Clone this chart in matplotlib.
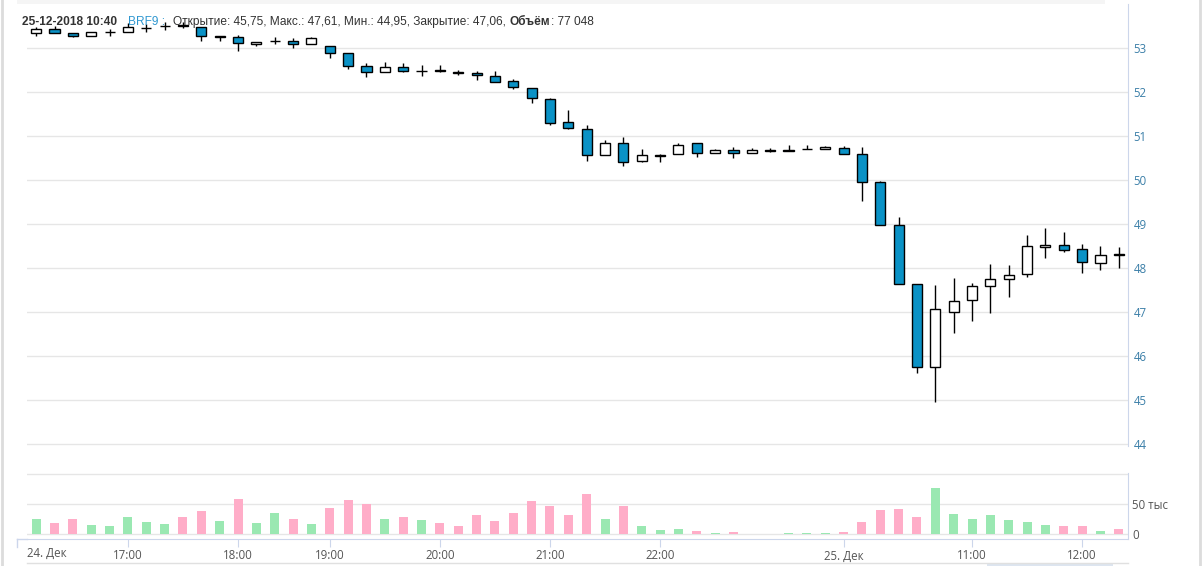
import matplotlib
matplotlib.use('Agg')
import matplotlib.pyplot as plt
from matplotlib.patches import Rectangle
from matplotlib.lines import Line2D

# 10-minute candles, BRF9, 24-25 Dec 2018
opens = [53.33, 53.43, 53.34, 53.27, 53.36, 53.36, 53.45, 53.51, 53.52, 53.48,
         53.28, 53.24, 53.09, 53.17, 53.17, 53.08, 53.04, 52.88, 52.58, 52.45,
         52.56, 52.48, 52.49, 52.445, 52.43, 52.36, 52.24, 52.10, 51.83, 51.32,
         51.17, 50.56, 50.83, 50.43, 50.56, 50.58, 50.83, 50.61, 50.68, 50.61,
         50.675, 50.675, 50.705, 50.70, 50.73, 50.58, 49.95, 48.97, 47.63, 45.75,
         47.00, 47.27, 47.59, 47.75, 47.86, 48.47, 48.52, 48.43, 48.11, 48.31]
highs = [53.48, 53.50, 53.34, 53.36, 53.43, 53.56, 53.55, 53.58, 53.60, 53.48,
         53.28, 53.30, 53.14, 53.26, 53.22, 53.24, 53.04, 52.88, 52.67, 52.68,
         52.65, 52.61, 52.61, 52.50, 52.48, 52.48, 52.30, 52.10, 51.86, 51.59,
         51.25, 50.91, 50.98, 50.70, 50.58, 50.84, 50.83, 50.71, 50.74, 50.73,
         50.72, 50.79, 50.80, 50.77, 50.77, 50.76, 49.97, 49.15, 47.63, 47.61,
         47.77, 47.65, 48.09, 48.07, 48.75, 48.92, 48.82, 48.55, 48.50, 48.48]
lows = [53.28, 53.35, 53.24, 53.27, 53.28, 53.36, 53.36, 53.42, 53.45, 53.17,
        53.17, 52.94, 53.05, 53.09, 52.99, 53.08, 52.77, 52.53, 52.35, 52.45,
        52.46, 52.37, 52.46, 52.39, 52.27, 52.23, 52.07, 51.76, 51.26, 51.17,
        50.44, 50.56, 50.32, 50.40, 50.42, 50.58, 50.52, 50.61, 50.51, 50.61,
        50.64, 50.67, 50.70, 50.70, 50.60, 49.53, 48.97, 47.63, 45.62, 44.95,
        46.52, 46.80, 46.98, 47.33, 47.79, 48.22, 48.37, 47.89, 47.95, 48.01]
closes = [53.43, 53.35, 53.27, 53.36, 53.36, 53.48, 53.45, 53.49, 53.50, 53.28,
          53.26, 53.11, 53.14, 53.15, 53.10, 53.22, 52.88, 52.58, 52.46, 52.57,
          52.48, 52.48, 52.48, 52.435, 52.38, 52.23, 52.12, 51.86, 51.29, 51.19,
          50.56, 50.83, 50.40, 50.56, 50.55, 50.79, 50.61, 50.68, 50.61, 50.68,
          50.665, 50.665, 50.695, 50.76, 50.60, 49.95, 48.97, 47.63, 45.74, 47.06,
          47.24, 47.59, 47.75, 47.84, 48.49, 48.52, 48.40, 48.13, 48.29, 48.29]
volumes = [25600, 18900, 25600, 15600, 13900, 28900, 20600, 17200, 28900, 38900,
           22200, 58900, 18900, 35600, 25600, 17200, 43900, 57200, 50600, 25600,
           28900, 23900, 18900, 13900, 32200, 22200, 35600, 55600, 47200, 32200,
           67200, 25600, 47200, 13900, 7200, 8900, 5600, 2200, 3900, 300,
           300, 2000, 2000, 2000, 3900, 20600, 40600, 42200, 28900, 77048,
           33900, 25600, 32200, 23900, 20600, 15600, 13900, 13900, 5600, 8900]
vol_up = [1, 0, 0, 1, 1, 1, 1, 1, 0, 0,
          1, 0, 1, 1, 0, 1, 0, 0, 0, 1,
          0, 1, 0, 0, 0, 0, 0, 0, 0, 0,
          0, 1, 0, 1, 1, 1, 0, 1, 0, 1,
          1, 1, 1, 1, 0, 0, 0, 0, 0, 1,
          1, 1, 1, 1, 1, 1, 0, 0, 1, 0]

tick_pos = [5, 11, 16, 22, 28, 34, 44, 51, 57]
tick_labels = ['17:00', '18:00', '19:00', '20:00', '21:00', '22:00', '25. Дек', '11:00', '12:00']
first_label = '24. Дек'
price_ticks = [44, 45, 46, 47, 48, 49, 50, 51, 52, 53]

W, H = 1202, 566
blue = '#0a92c6'
axis_col = '#ccd6eb'
grid_col = '#e6e6e6'

plt.rcParams['font.family'] = ['Open Sans', 'DejaVu Sans']

fig = plt.figure(figsize=(W / 100, H / 100), dpi=100)

def box(x0, y0, x1, y1):
    return [x0 / W, 1 - y1 / H, (x1 - x0) / W, (y1 - y0) / H]

ax = fig.add_axes(box(27, 4, 1128, 446))
axv = fig.add_axes(box(27, 473, 1128, 539), sharex=ax)

n = len(opens)
bw = 0.55
for i in range(n):
    o, h, l, c = opens[i], highs[i], lows[i], closes[i]
    ax.vlines(i, l, h, color='black', lw=1, zorder=2)
    up = c >= o
    ax.add_patch(Rectangle((i - bw / 2, min(o, c)), bw, abs(c - o),
                           facecolor='white' if up else blue,
                           edgecolor='black', lw=1, zorder=3))

axv.bar(range(n), volumes, width=0.49,
        color=['#9ae8b2' if u else '#ffadc8' for u in vol_up], zorder=2)

ax.set_xlim(-0.5, n - 0.5)
ax.set_ylim(44 - 2 / 44, 54)
axv.set_ylim(-8300, 101700)

for a in (ax, axv):
    for s in ('top', 'left', 'bottom'):
        a.spines[s].set_visible(False)
    a.spines['right'].set_color(axis_col)
    a.yaxis.tick_right()
    a.grid(axis='y', color=grid_col, lw=1)
    a.set_axisbelow(True)
axv.spines['bottom'].set_visible(True)
axv.spines['bottom'].set_color(axis_col)

ax.set_yticks(price_ticks)
ax.tick_params(axis='y', length=0, pad=4, labelsize=8.3, labelcolor='#3b7fa8')
ax.tick_params(axis='x', bottom=False, labelbottom=False)

axv.set_yticks([0, 50000, 100000])
axv.set_yticklabels(['0', '50 тыс', ''])
axv.tick_params(axis='y', length=0, pad=3, labelsize=8.3, labelcolor='#555555')
axv.set_xticks(tick_pos)
axv.set_xticklabels(tick_labels)
axv.tick_params(axis='x', length=6, color=axis_col, pad=1.5, labelsize=8.3, labelcolor='#555555')

# first date label sits left of the plot, as in the reference
fig.text(27 / W, 1 - 553 / H, first_label, ha='left', va='center', fontsize=8.3, color='#555555')
fig.add_artist(Line2D([17 / W, 27 / W], [1 - 539 / H, 1 - 539 / H], color=axis_col, lw=1))
fig.add_artist(Line2D([17 / W, 17 / W], [1 - 539 / H, 1 - 547 / H], color=axis_col, lw=1))

# frame / navigator bits
fig.add_artist(Line2D([27 / W, 1128 / W], [1 - 563 / H, 1 - 563 / H], color='#e0e0e0', lw=1))
fig.add_artist(Rectangle((987 / W, 0), 126 / W, 3 / H, color='#dde5f0', lw=0))
fig.add_artist(Line2D([1.5 / W, 1.5 / W], [0, 1], color='#dcdcdc', lw=2))
fig.add_artist(Line2D([1200 / W, 1200 / W], [0, 1], color='#dcdcdc', lw=2))
fig.add_artist(Rectangle((17 / W, 1 - 4 / H), 1088 / W, 4 / H, color='#f5f5f5', lw=0))

# header
fig.canvas.draw()
r = fig.canvas.get_renderer()
hdr = [('25-12-2018 10:40', 'bold', '#333333', 11),
       ('BRF9 :', 'normal', '#2f97d0', 8),
       ('Открытие: 45,75, Макс.: 47,61, Мин.: 44,95, Закрытие: 47,06,', 'normal', '#333333', 4),
       ('Объём', 'bold', '#333333', 0),
       (': 77 048', 'normal', '#333333', 0)]
x = 22
for s, fw, col, gap in hdr:
    t = fig.text(x / W, 1 - 25 / H, s, fontweight=fw, color=col, fontsize=8.6,
                 family=['Liberation Sans', 'DejaVu Sans'], va='baseline', zorder=10)
    x += t.get_window_extent(r).width + gap

fig.savefig('out.png', dpi=100)
